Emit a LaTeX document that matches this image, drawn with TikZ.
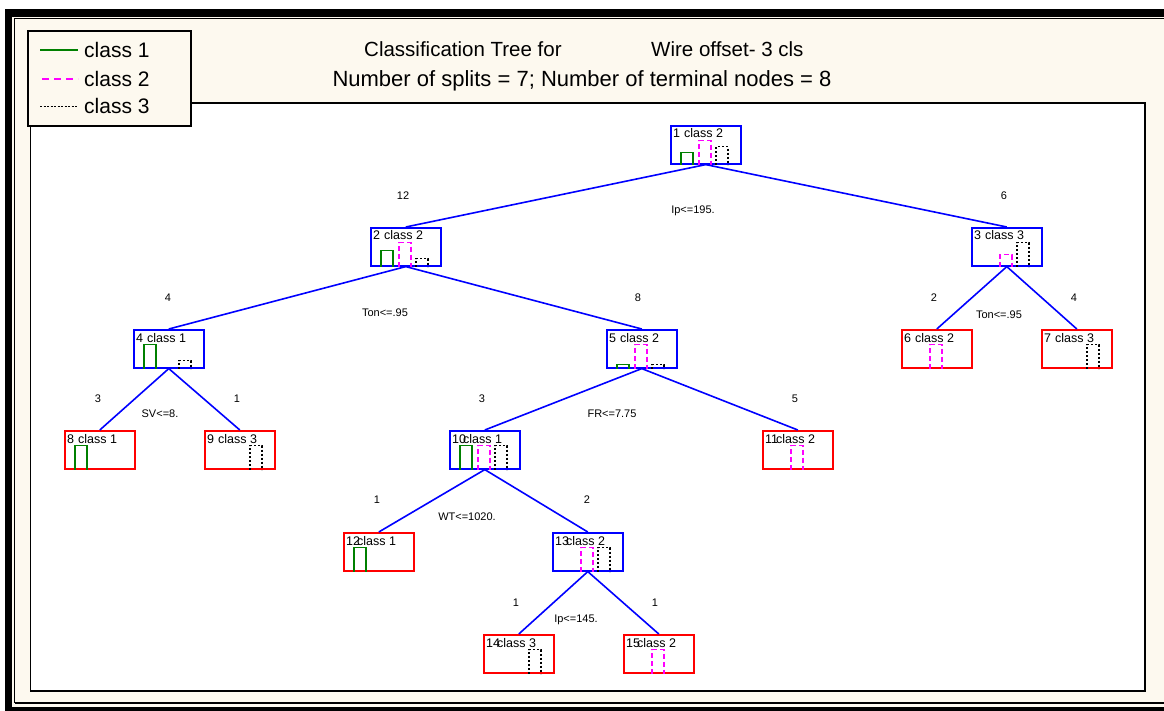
\documentclass[tikz,border=0pt]{standalone}
\usepackage{fontspec}
\setmainfont{Liberation Sans}
\usetikzlibrary{calc}

\definecolor{cream}{RGB}{253,249,239}
\definecolor{cgreen}{RGB}{0,128,0}
\definecolor{cmag}{RGB}{255,0,255}
\definecolor{cblue}{RGB}{0,0,255}
\definecolor{cred}{RGB}{255,0,0}

\tikzset{
  tbox/.style={rectangle, anchor=north west, minimum width=70pt, minimum height=38pt,
               inner sep=0pt, line width=1.6pt, fill=white},
  inner/.style={tbox, draw=cblue},
  leaf/.style={tbox, draw=cred},
  numtxt/.style={anchor=base west, inner sep=0pt, font=\fontsize{12.5}{14}\selectfont},
  gbar/.style={draw=cgreen, line width=1.6pt},
  mbar/.style={draw=cmag, line width=1.6pt, dash pattern=on 5pt off 3pt},
  kbar/.style={draw=black, line width=1.5pt, dash pattern=on 2pt off 2pt},
  edge/.style={draw=cblue, line width=1.6pt},
  smalltxt/.style={inner sep=0pt, font=\fontsize{11}{13}\selectfont},
  legtxt/.style={anchor=west, inner sep=0pt, font=\fontsize{21}{24}\selectfont},
  titletxt/.style={inner sep=0pt, font=\fontsize{20.5}{24}\selectfont},
  subtitletxt/.style={inner sep=0pt, font=\fontsize{22}{26}\selectfont},
}

% #1 name, #2 number, #3 class, #4 left, #5 top, #6 box style,
% #7 #8 #9 bar heights for class 1, 2, 3
\newcommand\treebox[9]{%
  \node[#6] (#1) at (#4,#5) {};
  \ifdim #7pt>0pt \draw[gbar] ($(#1.south west)+(11,0)$) -- ++(0,-#7) -- ++(12,0) -- ++(0,#7); \fi
  \ifdim #8pt>0pt \draw[mbar] ($(#1.south west)+(29,0)$) -- ++(0,-#8) -- ++(12,0) -- ++(0,#8); \fi
  \ifdim #9pt>0pt \draw[kbar] ($(#1.south west)+(46,0)$) -- ++(0,-#9) -- ++(12,0) -- ++(0,#9); \fi
  \node[numtxt] at ($(#1.north west)+(3,13)$) {#2};
  \node[numtxt] at ($(#1.north west)+(14,13)$) {class #3};
}

\begin{document}
\begin{tikzpicture}[x=1pt, y=-1pt]
\useasboundingbox (0,0) rectangle (1164,711);

% window background and double frame
\fill[white] (0,0) rectangle (1164,711);
\fill[cream] (12,17) rectangle (1164,707);
\fill[black] (5,9) rectangle (1164,17);
\fill[black] (5,9) rectangle (12,711);
\fill[black] (5,707) rectangle (1164,711);
\draw[black, line width=1.2pt] (14.5,703) -- (14.5,18.5) -- (1164,18.5);
\draw[black, line width=1.2pt] (14.5,703) -- (1164,703);

% plot area
\draw[fill=white, line width=1.4pt] (30.5,103) rectangle (1145,691);

% legend
\draw[fill=cream, line width=1.4pt] (28,31) rectangle (191,126);
\coordinate (l1a) at (40,50);  \coordinate (l1b) at (78,50);
\coordinate (l2a) at (42,79);  \coordinate (l2b) at (78,79);
\coordinate (l3a) at (40,107); \coordinate (l3b) at (77,107);
\draw[cgreen, line width=1.4pt] (l1a) -- (l1b);
\draw[cmag, line width=1.4pt, dash pattern=on 7pt off 5pt] (l2a) -- (l2b);
\draw[black, line width=1pt, dash pattern=on 2pt off 1.5pt] (l3a) -- (l3b);
\node[legtxt] (lg1) at (84,50) {class 1};
\node[legtxt] (lg2) at (84,79) {class 2};
\node[legtxt] (lg3) at (84,106) {class 3};

% titles
\node[titletxt, anchor=west] (t1) at (364,49) {Classification Tree for};
\node[titletxt, anchor=west] (t2) at (651,49) {Wire offset- 3 cls};
\node[subtitletxt] (t3) at (582,81) {Number of splits = 7; Number of terminal nodes = 8};

% tree nodes
\treebox{n1}{1}{2}{670}{125}{inner}{12}{24}{18}
\treebox{n2}{2}{2}{370}{227}{inner}{16}{24}{8}
\treebox{n3}{3}{3}{971}{227}{inner}{0}{12}{24}
\treebox{n4}{4}{1}{133}{329}{inner}{24}{0}{8}
\treebox{n5}{5}{2}{606}{329}{inner}{4}{24}{4}
\treebox{n6}{6}{2}{901}{329}{leaf}{0}{24}{0}
\treebox{n7}{7}{3}{1041}{329}{leaf}{0}{0}{24}
\treebox{n8}{8}{1}{64}{430}{leaf}{24}{0}{0}
\treebox{n9}{9}{3}{204}{430}{leaf}{0}{0}{24}
\treebox{n10}{10}{1}{449}{430}{inner}{24}{24}{24}
\treebox{n11}{11}{2}{762}{430}{leaf}{0}{24}{0}
\treebox{n12}{12}{1}{343}{532}{leaf}{24}{0}{0}
\treebox{n13}{13}{2}{552}{532}{inner}{0}{24}{24}
\treebox{n14}{14}{3}{483}{634}{leaf}{0}{0}{24}
\treebox{n15}{15}{2}{623}{634}{leaf}{0}{24}{0}

% branches
\draw[edge] (n1.south) -- (n2.north);
\draw[edge] (n1.south) -- (n3.north);
\draw[edge] (n2.south) -- (n4.north);
\draw[edge] (n2.south) -- (n5.north);
\draw[edge] (n3.south) -- (n6.north);
\draw[edge] (n3.south) -- (n7.north);
\draw[edge] (n4.south) -- (n8.north);
\draw[edge] (n4.south) -- (n9.north);
\draw[edge] (n5.south) -- (n10.north);
\draw[edge] (n5.south) -- (n11.north);
\draw[edge] (n10.south) -- (n12.north);
\draw[edge] (n10.south) -- (n13.north);
\draw[edge] (n13.south) -- (n14.north);
\draw[edge] (n13.south) -- (n15.north);

% node sizes on the branches
\node[smalltxt] (c2) at (403,196) {12};
\node[smalltxt] (c3) at (1004,196) {6};
\node[smalltxt] (c4) at (168,298) {4};
\node[smalltxt] (c5) at (638,298) {8};
\node[smalltxt] (c6) at (934,298) {2};
\node[smalltxt] (c7) at (1074,298) {4};
\node[smalltxt] (c8) at (98,399) {3};
\node[smalltxt] (c9) at (237,399) {1};
\node[smalltxt] (c10) at (482,399) {3};
\node[smalltxt] (c11) at (795,399) {5};
\node[smalltxt] (c12) at (377,500) {1};
\node[smalltxt] (c13) at (587,500) {2};
\node[smalltxt] (c14) at (516,603) {1};
\node[smalltxt] (c15) at (655,603) {1};

% split rules
\node[smalltxt] (s1) at (693,211) {Ip<=195.};
\node[smalltxt] (s2) at (385,313) {Ton<=.95};
\node[smalltxt] (s3) at (999,315) {Ton<=.95};
\node[smalltxt] (s4) at (160,414) {SV<=8.};
\node[smalltxt] (s5) at (612,414) {FR<=7.75};
\node[smalltxt] (s10) at (467,517) {WT<=1020.};
\node[smalltxt] (s13) at (576,620) {Ip<=145.};
\end{tikzpicture}
\end{document}
